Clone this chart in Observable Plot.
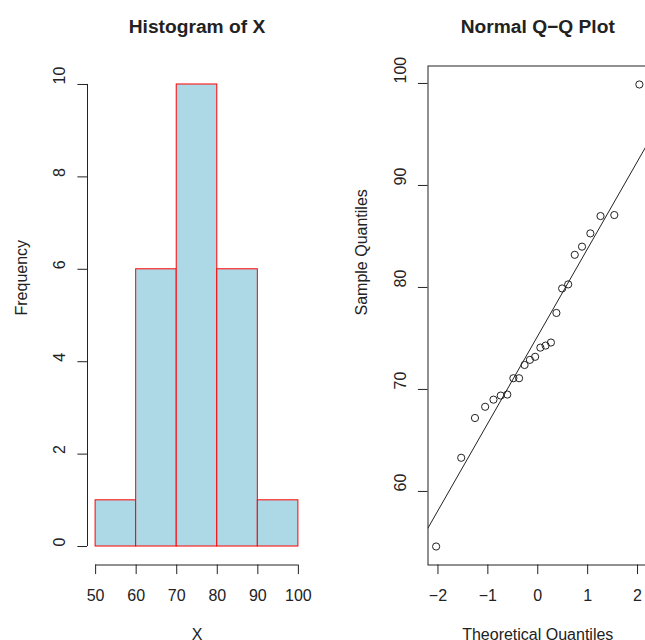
<!DOCTYPE html>
<html><head><meta charset="utf-8">
<script src="https://cdn.jsdelivr.net/npm/d3@7"></script>
<script src="https://cdn.jsdelivr.net/npm/@observablehq/plot@0.6"></script>
<style>
html,body{margin:0;padding:0;overflow:hidden;background:#fff;}
#wrap{position:relative;width:645px;height:640px;overflow:hidden;background:#fff;}
#wrap svg{position:absolute;top:0;}
</style></head><body><div id="wrap"></div>
<script>
// ---- data ----
const binEdges = [50, 60, 70, 80, 90, 100];
const binCounts = [1, 6, 10, 6, 1];
const sampleValues = [54.6, 63.3, 67.2, 68.3, 69.0, 69.4, 69.5, 71.1, 71.1, 72.4, 72.9, 73.2,
                      74.1, 74.3, 74.6, 77.5, 79.9, 80.3, 83.2, 84.0, 85.3, 87.0, 87.1, 99.9];
const histXTicks = [50, 60, 70, 80, 90, 100];
const histYTicks = [0, 2, 4, 6, 8, 10];
const qqXTicks = [-2, -1, 0, 1, 2];
const qqYTicks = [60, 70, 80, 90, 100];
const titles = ["Histogram of X", "Normal Q\u2212Q Plot"];
const xLabels = ["X", "Theoretical Quantiles"];
const yLabels = ["Frequency", "Sample Quantiles"];

// ---- helpers ----
function qnorm(p){
  const a=[-3.969683028665376e+01,2.209460984245205e+02,-2.759285104469687e+02,1.383577518672690e+02,-3.066479806614716e+01,2.506628277459239e+00];
  const b=[-5.447609879822406e+01,1.615858368580409e+02,-1.556989798598866e+02,6.680131188771972e+01,-1.328068155288572e+01];
  const c=[-7.784894002430293e-03,-3.223964580411365e-01,-2.400758277161838e+00,-2.549732539343734e+00,4.374664141464968e+00,2.938163982698783e+00];
  const d=[7.784695709041462e-03,3.224671290700398e-01,2.445134137142996e+00,3.754408661907416e+00];
  const pl=0.02425, ph=1-pl; let q,r;
  if(p<pl){q=Math.sqrt(-2*Math.log(p));return (((((c[0]*q+c[1])*q+c[2])*q+c[3])*q+c[4])*q+c[5])/((((d[0]*q+d[1])*q+d[2])*q+d[3])*q+1);}
  if(p<=ph){q=p-0.5;r=q*q;return (((((a[0]*r+a[1])*r+a[2])*r+a[3])*r+a[4])*r+a[5])*q/(((((b[0]*r+b[1])*r+b[2])*r+b[3])*r+b[4])*r+1);}
  q=Math.sqrt(-2*Math.log(1-p));return -(((((c[0]*q+c[1])*q+c[2])*q+c[3])*q+c[4])*q+c[5])/((((d[0]*q+d[1])*q+d[2])*q+d[3])*q+1);
}
const extend = (lo, hi) => [lo - (hi - lo) * 0.04, hi + (hi - lo) * 0.04];
const fmt = d3.format("d");
const FONT = "'Liberation Sans', Arial, Helvetica, sans-serif";
const INK = "#222";
const H = 640, MT = 65.5, MB = 75.5;

function decorations(xTicks, yTicks, title, xLab, yLab){
  return [
    Plot.axisX({ticks: xTicks, tickSize: 9.6, tickFormat: () => "", label: null, stroke: INK}),
    Plot.axisY({ticks: yTicks, tickSize: 9.6, tickFormat: () => "", label: null, stroke: INK}),
    Plot.text(xTicks, {x: d => d, text: d => fmt(d), frameAnchor: "bottom", dy: 36.2, lineAnchor: "bottom", fontSize: 16, fill: INK}),
    Plot.text(yTicks, {y: d => d, text: d => fmt(d), frameAnchor: "left", dx: -22.2, rotate: -90, lineAnchor: "bottom", fontSize: 16, fill: INK}),
    Plot.text([title], {frameAnchor: "top", dy: -33.4, lineAnchor: "bottom", fontSize: 19.2, fontWeight: "bold", fill: INK}),
    Plot.text([xLab], {frameAnchor: "bottom", dy: 74.8, lineAnchor: "bottom", fontSize: 16, fill: INK}),
    Plot.text([yLab], {frameAnchor: "left", dx: -60.6, rotate: -90, lineAnchor: "bottom", fontSize: 16, fill: INK})
  ];
}

// ---- histogram ----
const bins = binCounts.map((n, i) => ({x1: binEdges[i], x2: binEdges[i + 1], n}));
const hxDom = extend(binEdges[0], binEdges[binEdges.length - 1]);
const hyDom = extend(0, d3.max(binCounts));
const hist = Plot.plot({
  width: 322, height: H,
  marginLeft: 87, marginRight: 16, marginTop: MT, marginBottom: MB,
  style: {fontFamily: FONT, background: "transparent", overflow: "visible"},
  x: {domain: hxDom, axis: null},
  y: {domain: hyDom, axis: null},
  marks: [
    Plot.rect(bins, {x1: "x1", x2: "x2", y1: 0, y2: "n", fill: "#ADD8E6", stroke: "red", strokeWidth: 1}),
    Plot.ruleY([hyDom[0]], {x1: binEdges[0], x2: binEdges[binEdges.length - 1], stroke: INK}),
    Plot.ruleX([hxDom[0]], {y1: histYTicks[0], y2: histYTicks[histYTicks.length - 1], stroke: INK}),
    ...decorations(histXTicks, histYTicks, titles[0], xLabels[0], yLabels[0])
  ]
});
hist.style.left = "0px";

// ---- normal Q-Q ----
const n = sampleValues.length;
const sorted = sampleValues.slice().sort((a, b) => a - b);
const qq = sorted.map((y, i) => ({x: qnorm((i + 1 - 0.5) / n), y}));
const q25 = d3.quantile(sorted, 0.25), q75 = d3.quantile(sorted, 0.75);
const z25 = qnorm(0.25), z75 = qnorm(0.75);
const slope = (q75 - q25) / (z75 - z25);
const intercept = q25 - slope * z25;
const qxDom = extend(d3.min(qq, d => d.x), d3.max(qq, d => d.x));
const qyDom = extend(d3.min(sorted), d3.max(sorted));
const lineEnds = qxDom.map(x => ({x, y: intercept + slope * x}));
const qqPlot = Plot.plot({
  width: 325, height: H,
  marginLeft: 105.5, marginRight: 0, marginTop: MT, marginBottom: MB,
  style: {fontFamily: FONT, background: "transparent", overflow: "visible"},
  x: {domain: qxDom, axis: null},
  y: {domain: qyDom, axis: null},
  marks: [
    Plot.frame({stroke: INK}),
    Plot.line(lineEnds, {x: "x", y: "y", stroke: INK, strokeWidth: 1, clip: true}),
    Plot.dot(qq, {x: "x", y: "y", r: 3.6, stroke: INK, fill: "none", strokeWidth: 1}),
    ...decorations(qqXTicks, qqYTicks, titles[1], xLabels[1], yLabels[1])
  ]
});
qqPlot.style.left = "322px";

const wrap = document.getElementById("wrap");
wrap.appendChild(hist);
wrap.appendChild(qqPlot);
</script></body></html>
